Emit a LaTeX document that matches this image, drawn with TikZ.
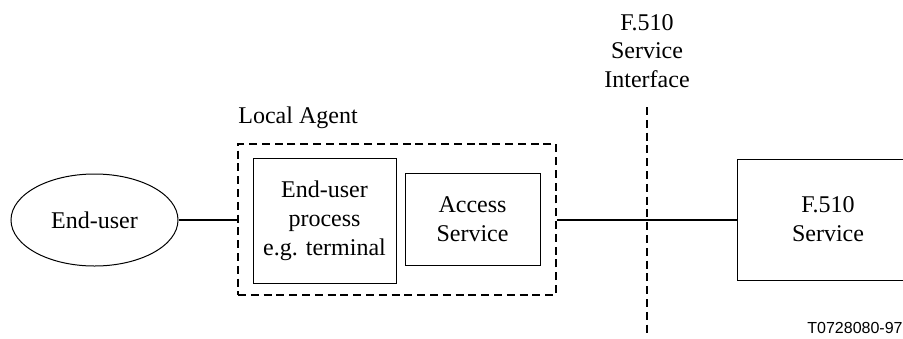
\documentclass[tikz,border=0pt]{standalone}
\usepackage{fontspec}
\setmainfont{Liberation Serif}
\newfontfamily\figfont{Liberation Sans}
\usetikzlibrary{positioning,shapes.geometric}

\begin{document}
\begin{tikzpicture}[
x=0.5pt, y=-0.5pt,
box/.style={
		draw=black,
		line width=0.5pt,
		align=center,
		inner sep=0pt,
		font=\fontsize{12}{14.4}\selectfont,
		},
user/.style={box, ellipse},
agentbox/.style={draw=black, line width=0.9pt, dash pattern=on 4pt off 2.4pt},
link/.style={draw=black, line width=1pt},
lbl/.style={align=center, inner sep=0pt, font=\fontsize{12}{14.4}\selectfont}
]

\def \lineY {220}

\useasboundingbox (0,0) rectangle (903,338);

% left side
\node[user, minimum width=83.5pt, minimum height=46pt] (enduser) at (94.5,\lineY) {End-user};
\node[agentbox, minimum width=159pt, minimum height=75.5pt] (agent) at (397,219.5) {};
\node[box, minimum width=71.5pt, minimum height=62.5pt] (process) at (324.5,220.5) {End-user\\process\\e.g. terminal};
\node[box, minimum width=67.5pt, minimum height=46pt] (access) at (472.5,219.5) {Access\\Service};
\node[lbl, anchor=base west] (agentlbl) at (238,123) {Local Agent};

% interface
\coordinate (iftop) at (647,107);
\coordinate (ifbot) at (647,333);
\draw[agentbox] (iftop) -- (ifbot);
\node[lbl] (iflbl) at (647,51) {F.510\\Service\\Interface};

% right side
\node[box, minimum width=91pt, minimum height=60.5pt] (service) at (828,219.5) {F.510\\Service};

\draw[link] (enduser.east) -- (enduser.east -| agent.west);
\draw[link] (agent.east |- enduser.east) -- (service.west |- enduser.east);

\node[anchor=base east, inner sep=0pt, font=\figfont\fontsize{8}{9.6}\selectfont] (figid) at (903,333) {T0728080-97};

\end{tikzpicture}
\end{document}
